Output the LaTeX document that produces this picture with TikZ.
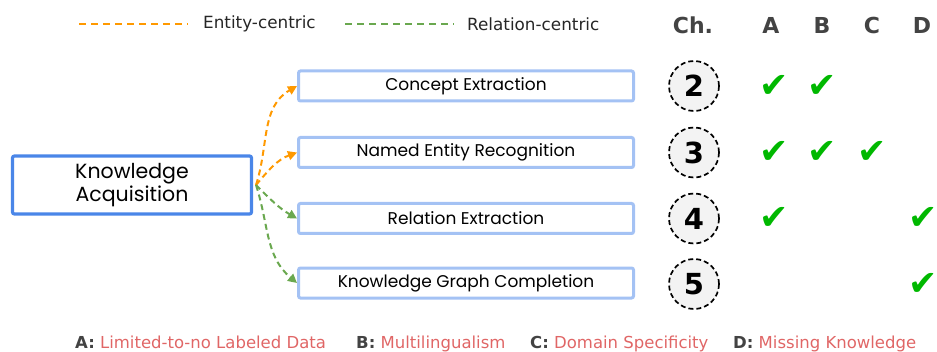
\documentclass[tikz,border=0pt]{standalone}
\usepackage{fontspec}
\setmainfont{Poppins}
\newfontfamily\dvs{DejaVu Sans}
\usetikzlibrary{arrows.meta}

\definecolor{kablue}{HTML}{4A86E8}
\definecolor{tasklight}{HTML}{A4C2F4}
\definecolor{entorange}{HTML}{FF9900}
\definecolor{relgreen}{HTML}{6AA84F}
\definecolor{hdrgray}{HTML}{434343}
\definecolor{keyred}{HTML}{E06666}
\definecolor{tickgreen}{HTML}{00B800}
\definecolor{chfill}{HTML}{F3F3F3}

\tikzset{
  mainbox/.style={draw=kablue, line width=3.2pt, rounded corners=2pt, fill=white,
    minimum width=239pt, minimum height=58pt, inner sep=0pt, align=center,
    font=\fontsize{20.5}{23}\selectfont},
  taskbox/.style={draw=tasklight, line width=3pt, rounded corners=2pt, fill=white,
    minimum width=335pt, minimum height=30pt, inner sep=0pt,
    font=\fontsize{17}{20}\selectfont},
  chapter/.style={circle, draw=black, dash pattern=on 5pt off 3pt, line width=1.7pt, fill=chfill,
    minimum size=50pt, inner sep=0pt, font=\dvs\bfseries\fontsize{29}{30}\selectfont},
  hdr/.style={text=hdrgray, font=\dvs\bfseries\fontsize{22}{24}\selectfont},
  tick/.style={text=tickgreen, font=\dvs\fontsize{35}{35}\selectfont, inner sep=0pt},
  ent/.style={draw=entorange, dash pattern=on 7pt off 5pt, line width=2pt},
  rel/.style={draw=relgreen, dash pattern=on 7pt off 5pt, line width=2pt},
  entarrow/.style={ent, dash pattern=on 6pt off 4pt, -{Triangle[length=9pt,width=9pt]}},
  relarrow/.style={rel, dash pattern=on 6pt off 4pt, -{Triangle[length=9pt,width=9pt]}},
  legendtxt/.style={anchor=west, inner sep=0pt, text=black!85, font=\dvs\fontsize{16.8}{18}\selectfont},
  keytxt/.style={anchor=base west, inner sep=0pt, font=\dvs\fontsize{16.5}{18}\selectfont}
}

\begin{document}
\begin{tikzpicture}[x=1pt,y=1pt]
\useasboundingbox (0,0) rectangle (937,351);

% legend
\coordinate (eA) at (79,327);  \coordinate (eB) at (188,327);
\coordinate (gA) at (345,327); \coordinate (gB) at (454,327);
\draw[ent] (eA) -- (eB);
\draw[rel] (gA) -- (gB);
\node[legendtxt] (entl) at (203,327) {Entity-centric};
\node[legendtxt] (rell) at (467,327) {Relation-centric};

% main box and tasks
\node[mainbox] (ka) at (132,166) {Knowledge\\Acquisition};
\coordinate (src) at (256,166);
\node[taskbox] (t1) at (466,265) {Concept Extraction};
\node[taskbox] (t2) at (466,198.5) {Named Entity Recognition};
\node[taskbox] (t3) at (466,132.5) {Relation Extraction};
\node[taskbox] (t4) at (466,68)  {Knowledge Graph Completion};

\draw[entarrow] (src) to[out=72,in=210] (t1.west);
\draw[entarrow] (src) to[out=50,in=200] (t2.west);
\draw[relarrow] (src) to[out=-45,in=150] (t3.west);
\draw[relarrow] (src) to[out=-72,in=140] (t4.west);

% header
\node[hdr] (ch) at (693,326) {Ch.};
\node[hdr] (hA) at (771,326) {A};
\node[hdr] (hB) at (822,326) {B};
\node[hdr] (hC) at (872,326) {C};
\node[hdr] (hD) at (922,326) {D};

% chapters
\node[chapter] (c2) at (694,265) {2};
\node[chapter] (c3) at (694,198.5) {3};
\node[chapter] (c4) at (694,132.5) {4};
\node[chapter] (c5) at (694,67)  {5};

% ticks
\node[tick] (k2a) at (774,265) {✔};
\node[tick] (k2b) at (822,265) {✔};
\node[tick] (k3a) at (774,198.5) {✔};
\node[tick] (k3b) at (822,198.5) {✔};
\node[tick] (k3c) at (872,198.5) {✔};
\node[tick] (k4a) at (774,132.5) {✔};
\node[tick] (k4d) at (923,132.5) {✔};
\node[tick] (k5d) at (923,67)  {✔};

% key
\node[keytxt] (keyA) at (75,2.5) {\textcolor{hdrgray}{\bfseries A:} \textcolor{keyred}{Limited-to-no Labeled Data}};
\node[keytxt] (keyB) at (356,2.5) {\textcolor{hdrgray}{\bfseries B:} \textcolor{keyred}{Multilingualism}};
\node[keytxt] (keyC) at (530,2.5) {\textcolor{hdrgray}{\bfseries C:} \textcolor{keyred}{Domain Specificity}};
\node[keytxt] (keyD) at (733,2.5) {\textcolor{hdrgray}{\bfseries D:} \textcolor{keyred}{Missing Knowledge}};
\end{tikzpicture}
\end{document}
